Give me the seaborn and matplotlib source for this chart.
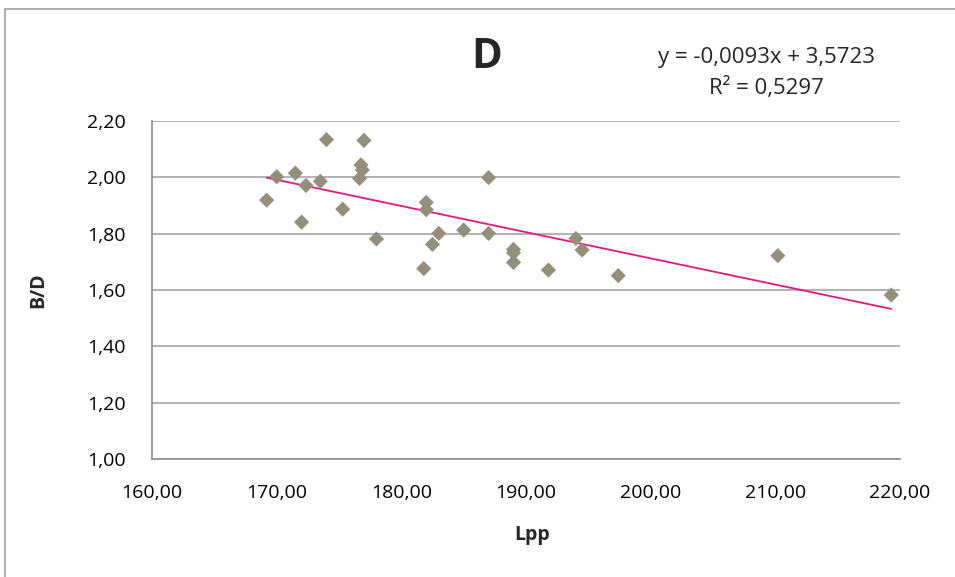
import matplotlib
matplotlib.use("Agg")
import matplotlib.pyplot as plt
import seaborn as sns
import numpy as np
import pandas as pd
from matplotlib.patches import Rectangle
from matplotlib.ticker import FuncFormatter

# Data
lpp = [169.2, 170.0, 171.5, 172.35, 172.0, 173.5, 174.0, 175.3, 177.0, 176.76,
       176.87, 176.65, 178.0, 182.0, 182.0, 181.8, 183.0, 182.5, 185.0, 187.0,
       187.0, 189.0, 189.0, 189.0, 191.8, 194.0, 194.5, 197.4, 210.2, 219.3]
bd = [1.919, 2.002, 2.015, 1.971, 1.841, 1.986, 2.134, 1.887, 2.131, 2.044,
      2.026, 1.996, 1.781, 1.911, 1.885, 1.676, 1.801, 1.762, 1.813, 1.999,
      1.801, 1.744, 1.732, 1.698, 1.671, 1.783, 1.742, 1.651, 1.722, 1.582]
trend_coef = [-0.0093, 3.5723]
r_squared = 0.5297
x_ticks = [160, 170, 180, 190, 200, 210, 220]
y_ticks = [1.0, 1.2, 1.4, 1.6, 1.8, 2.0, 2.2]

sns.set_theme(style="white")
plt.rcParams['font.family'] = ['Open Sans', 'DejaVu Sans']

fig = plt.figure(figsize=(9.55, 5.77), dpi=100)
ax = fig.add_axes([152/955, 1-459/577, (900-152)/955, (459-121)/577])

# outer chart border
fig.patches.append(Rectangle((5/955, -0.1), 1.2, 1-9/577+0.1, transform=fig.transFigure,
                             fill=False, edgecolor='#a0a0a0', linewidth=1.2, zorder=0))

df = pd.DataFrame({"Lpp": lpp, "B/D": bd})
sns.scatterplot(data=df, x="Lpp", y="B/D", marker="D", s=60, color="#948f78",
                edgecolor="none", ax=ax, zorder=3)

xt = np.array([min(lpp), max(lpp)])
trend = pd.DataFrame({"x": xt, "y": trend_coef[0]*xt + trend_coef[1]})
sns.lineplot(data=trend, x="x", y="y", color="#e6177f", linewidth=1.3, ax=ax, zorder=2)

ax.set_xlim(x_ticks[0], x_ticks[-1])
ax.set_ylim(y_ticks[0], y_ticks[-1])
ax.set_xticks(x_ticks)
ax.set_yticks(y_ticks)
fmt = FuncFormatter(lambda v, p: f"{v:.2f}".replace('.', ','))
ax.xaxis.set_major_formatter(fmt)
ax.yaxis.set_major_formatter(fmt)
ax.tick_params(axis='both', labelsize=14, colors='black', length=0)
ax.tick_params(axis='x', pad=18)
ax.tick_params(axis='y', pad=19)
ax.yaxis.grid(True, color='#a6a6a6', linewidth=1.2)
ax.xaxis.grid(False)
for s in ['top', 'right']:
    ax.spines[s].set_visible(False)
for s in ['left', 'bottom']:
    ax.spines[s].set_color('#8c8c8c')
    ax.spines[s].set_linewidth(1.2)

ax.set_xlabel("Lpp", fontsize=14, fontweight='bold')
ax.set_ylabel("B/D", fontsize=14, fontweight='bold')
ax.xaxis.set_label_coords((532-152)/748, (459-535)/338)
ax.xaxis.label.set_va('center')
ax.yaxis.set_label_coords((38-152)/748, (459-290)/338)
ax.yaxis.label.set_va('center')

fig.text(487/955, 1-58/577, "D", fontsize=30, fontweight='bold', ha='center', va='center')
fig.text(766/955, 1-57/577, "y = -0,0093x + 3,5723", fontsize=16, ha='center', va='center')
fig.text(766/955, 1-88/577, f"R² = {r_squared:.4f}".replace('.', ','), fontsize=16,
         ha='center', va='center')

fig.savefig("out.png", dpi=100)
